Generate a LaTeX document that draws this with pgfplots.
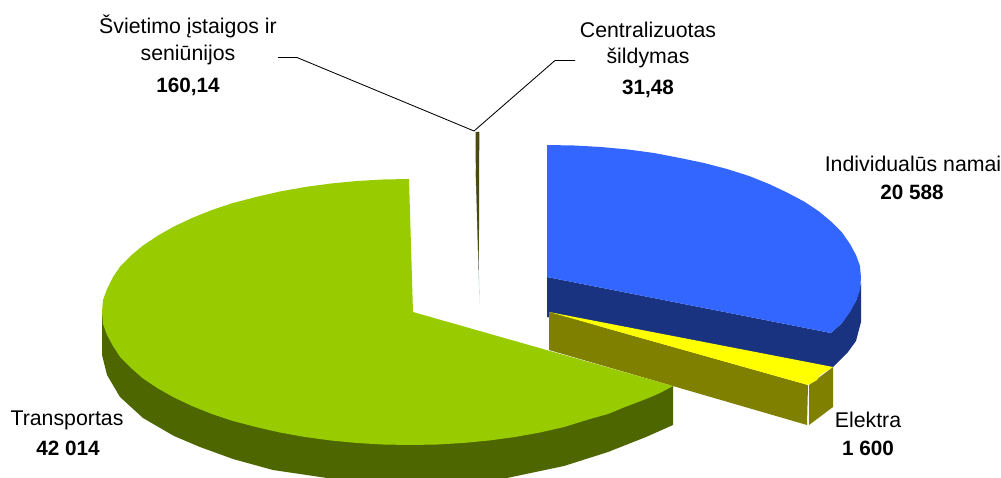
\documentclass[border=0pt]{standalone}
\usepackage{fontspec}
\setmainfont{Liberation Sans}
\usepackage{pgfplots}
\pgfplotsset{compat=1.18}
\definecolor{cblue}{HTML}{3366FF}
\definecolor{cdblue}{HTML}{1A3380}
\definecolor{cyel}{HTML}{FFFF00}
\definecolor{colive}{HTML}{808000}
\definecolor{cgreen}{HTML}{99CC00}
\definecolor{cdgreen}{HTML}{4D6600}
\definecolor{csliver}{HTML}{4A4A10}
\definecolor{cgrey}{HTML}{8FA5A8}
\tikzset{lab/.style={font=\fontsize{21.3}{24}\selectfont, anchor=center, inner sep=0pt},
  blab/.style={font=\fontsize{20.7}{24}\selectfont\bfseries, anchor=center, inner sep=0pt}}
\begin{document}
\begin{tikzpicture}
\begin{axis}[hide axis, scale only axis, width=1001pt, height=478pt,
  xmin=0, xmax=1001, ymin=0, ymax=478, y dir=reverse, clip mode=individual,
  every axis plot/.append style={line width=0pt, draw=none}]
% blue front and side
\addplot[fill=cdblue] coordinates {(547,277)(831,333)(842,323)(856,301)(861,283)(861,322)(856,341)(848,352)(840,360)(833,367)(831,367)(547,317)} --cycle;
% blue top
\addplot[fill=cblue] coordinates {(547,145)(574,145.5)(601,147)(628,149.5)(654,153)(680,158)(704,163)(727,169)(749,176)(769,184)(787,192.5)(804,201.5)(819,211.5)(831,221.5)(842,232.5)(850,244)(856,255)(860,266)(861,278)(860,290)(856,301)(850,312)(842,323)(831,333)(547,277)} --cycle;
% electricity
\addplot[fill=colive] coordinates {(549,312)(808,385)(807,425)(549,350)} --cycle;
\addplot[fill=colive] coordinates {(809,385)(833,367)(833,407)(809,425)} --cycle;
\addplot[fill=cyel] coordinates {(549,312)(833,367)(820,375)(817,380)(808,385)} --cycle;
% transport side
\addplot[fill=cdgreen] coordinates {(102,310)(102,355)(107,375)(120,397)(143,418)(174,436)(200,447)(233,459)(273,470)(327,478)(507,478)(564,466)(608,452)(646,437)(673,425)(673,386)} --cycle;
% transport top
\addplot[fill=cgreen] coordinates {(409,179)(383,179.5)(357,181)(331,183.5)(305,187)(280,191.5)(256,197)(233,203)(212,210)(192,218)(174,226.5)(158,235.5)(143,245.5)(131,255.5)(120.5,266)(113,277)(107,289)(103,300)(102,312)(103,324)(107,335)(113,346)(120.5,357.5)(131,368)(143,378.5)(158,388.5)(174,397.5)(192,406)(212,414)(233,421)(256,427)(280,432.5)(305,437)(331,440.5)(357,443)(383,444.5)(410,445)(437,444.5)(463,443)(489,440.5)(515,437)(540,432.5)(564,427)(590,419)(608,414)(625,407)(646,399)(660,393)(673,386)(413,312)} --cycle;
% slivers
\addplot[fill=cgrey] coordinates {(475.5,170)(477,170)(479.5,303)} --cycle;
\addplot[fill=csliver] coordinates {(475.5,132)(479.3,132)(479,230)(478.5,270)(477.5,230)(475.8,170)} --cycle;
% leaders
\addplot[draw=black, line width=0.85pt] coordinates {(278,57.5)(297,57.5)(474,131)};
\addplot[draw=black, line width=0.85pt] coordinates {(474,131)(555,60.5)(575,60.5)};
\node[lab] at (axis cs:188,26) {Švietimo įstaigos ir};
\node[lab] at (axis cs:188,55) {seniūnijos};
\node[blab] at (axis cs:188,86.5) {160,14};
\node[lab] at (axis cs:648,30) {Centralizuotas};
\node[lab] at (axis cs:648,58) {šildymas};
\node[blab] at (axis cs:648,88.5) {31,48};
\node[lab] at (axis cs:913,164) {Individualūs namai};
\node[blab] at (axis cs:912,192) {20 588};
\node[lab] at (axis cs:67,420) {Transportas};
\node[blab] at (axis cs:68,448) {42 014};
\node[lab] at (axis cs:868,420) {Elektra};
\node[blab] at (axis cs:868,448) {1 600};
\end{axis}
\pgfresetboundingbox
\path (0,0) rectangle (1001pt,478pt);
\end{tikzpicture}
\end{document}
